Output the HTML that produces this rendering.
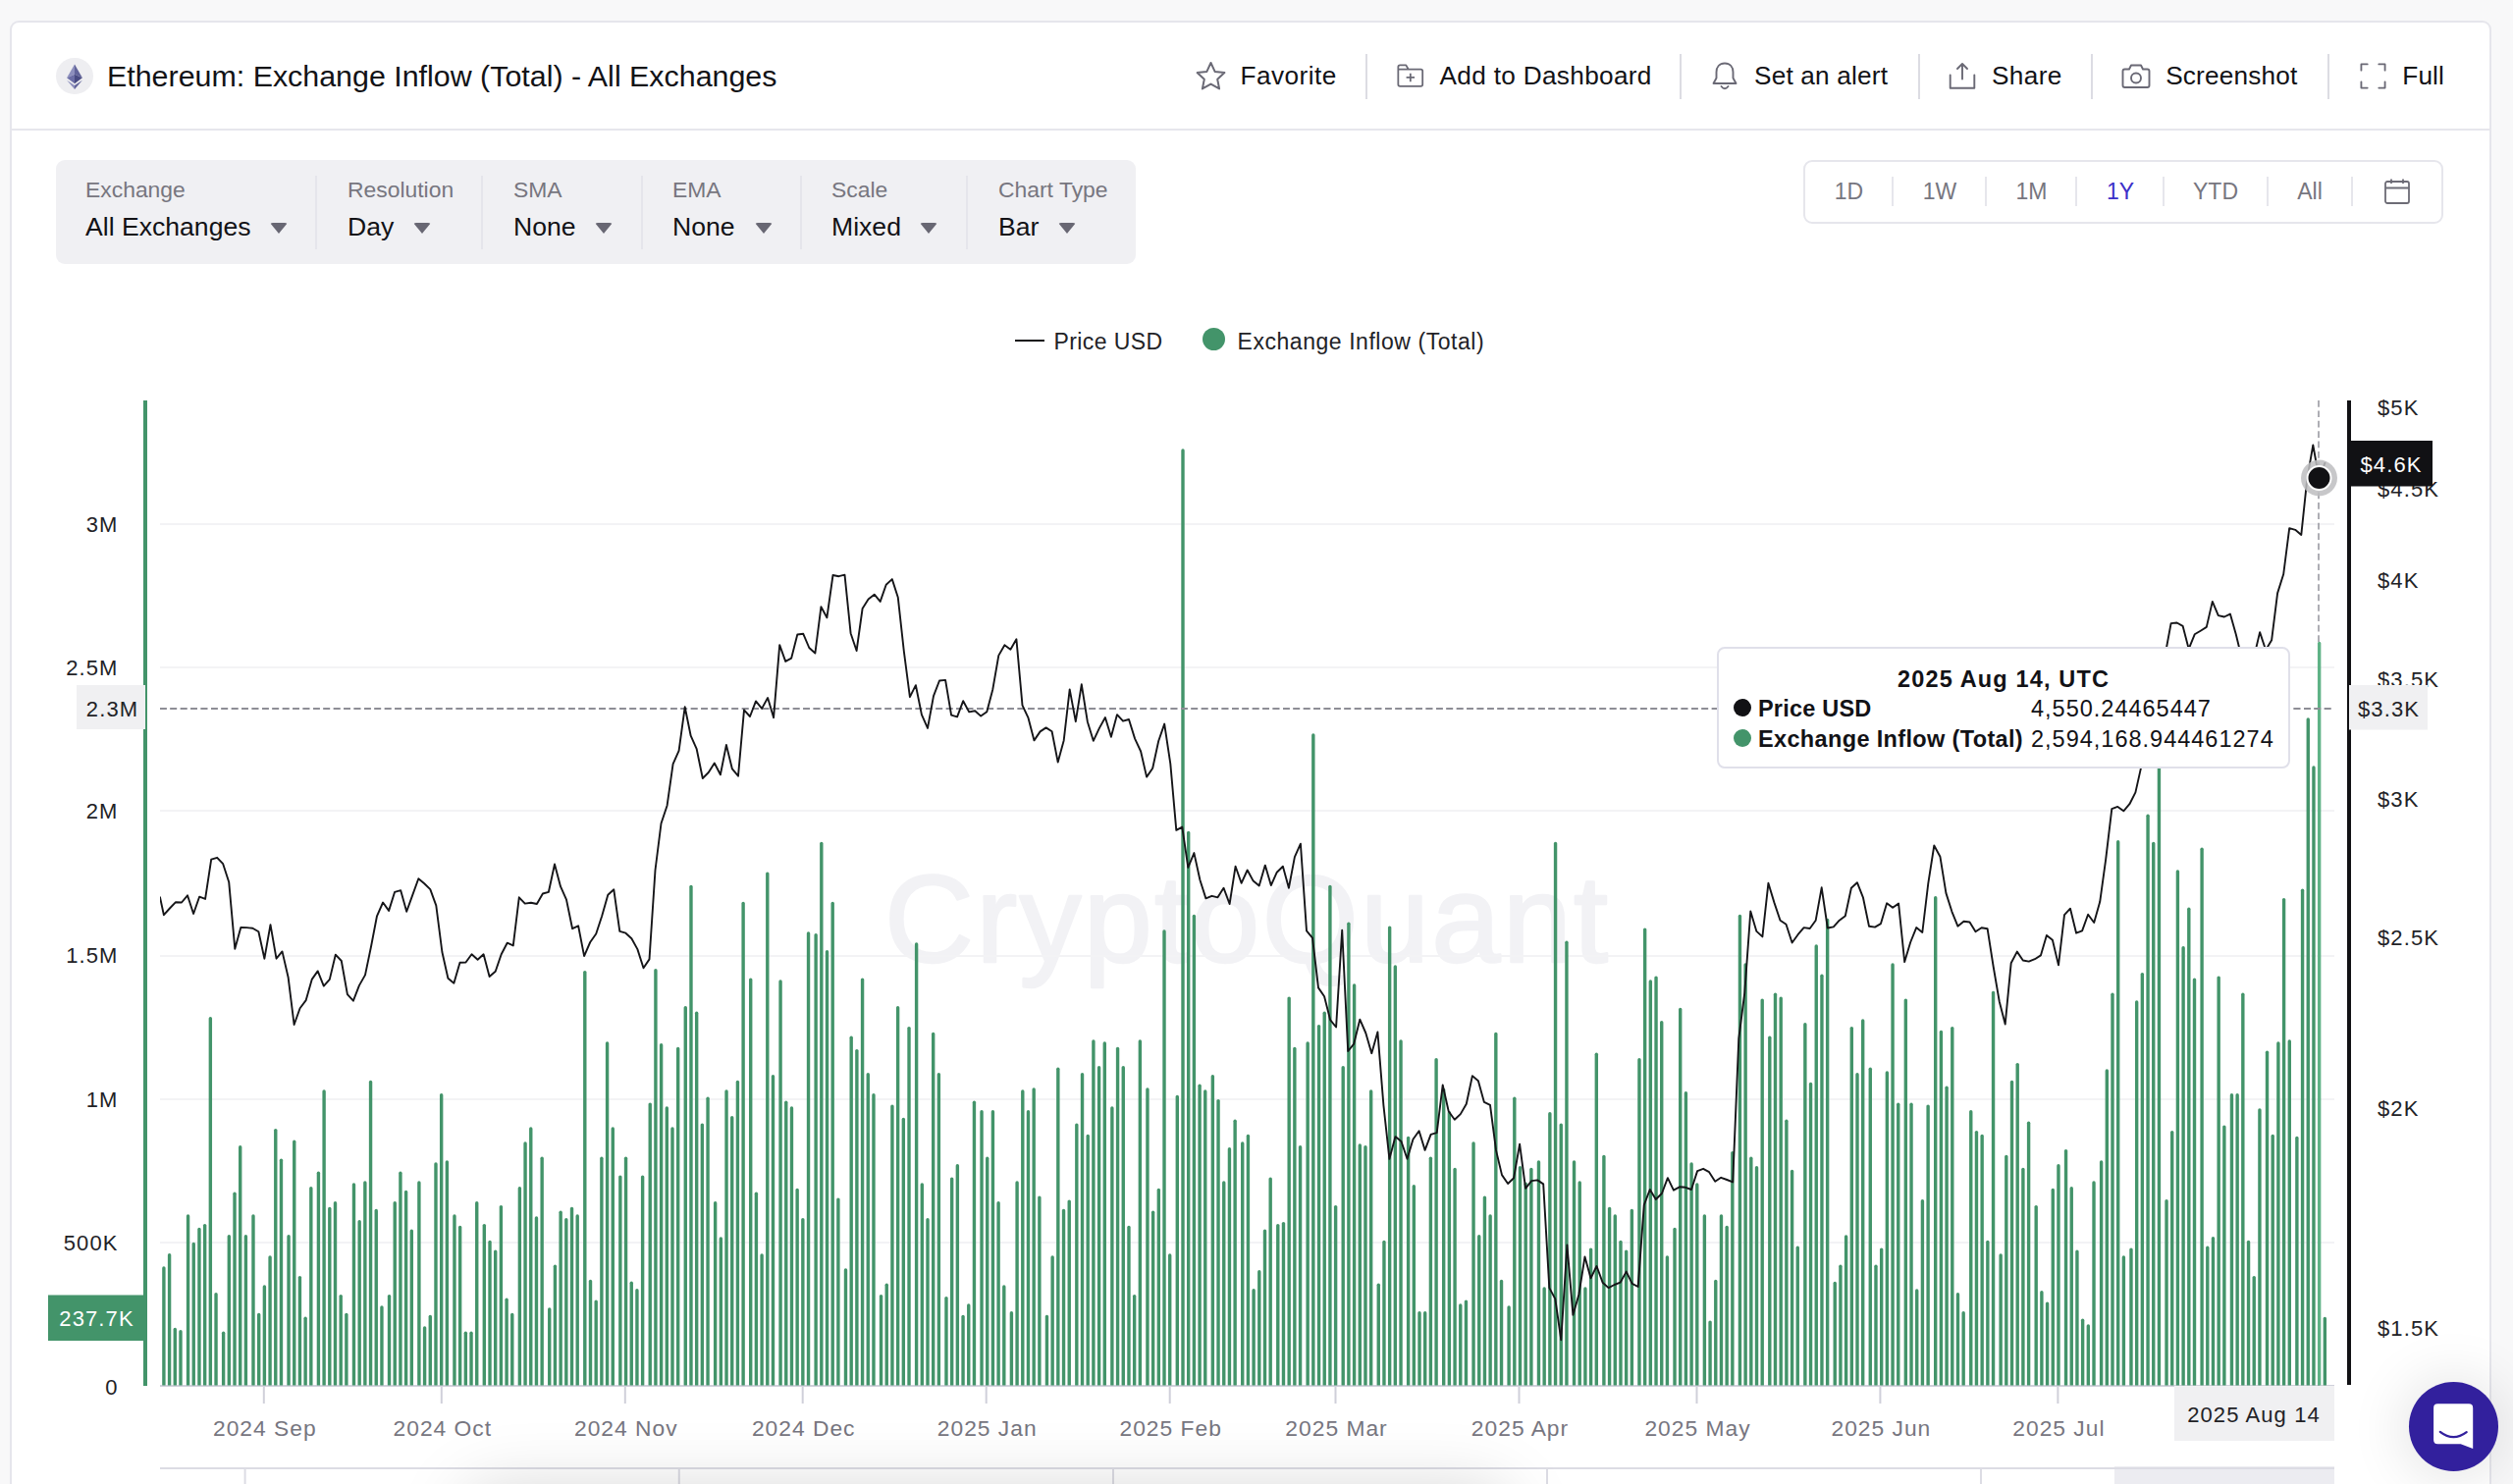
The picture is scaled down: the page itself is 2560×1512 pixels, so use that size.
<!DOCTYPE html>
<html lang="en">
<head>
<meta charset="utf-8">
<title>Ethereum: Exchange Inflow (Total) - All Exchanges</title>
<style>
*{box-sizing:border-box;margin:0;padding:0}
html,body{width:2560px;height:1512px;overflow:hidden;background:#f8f8f9;font-family:"Liberation Sans",sans-serif;color:#121216}
.abs{position:absolute}
.card{position:absolute;left:10px;top:21px;width:2528px;height:1520px;background:#fff;border:2px solid #e6e6ec;border-radius:9px}
.hline{position:absolute;left:12px;top:131px;width:2524px;height:2px;background:#e6e6ec}
.title{position:absolute;left:109px;top:59px;font-size:30.4px;line-height:36px;white-space:nowrap;color:#121216}
.eth{position:absolute;left:57px;top:58.7px;width:37.8px;height:37.8px;border-radius:50%;background:#eeeef1}
.tb{position:absolute;top:59px;margin-left:-1.5px;font-size:26.2px;letter-spacing:.45px;line-height:36px;white-space:nowrap;color:#121216}
.sep{position:absolute;top:55px;width:2px;height:46px;background:#dcdce3}
.ico{position:absolute}
.filter{position:absolute;left:57px;top:163px;width:1100px;height:106px;background:#f0f0f3;border-radius:9px}
.fl{position:absolute;top:179px;font-size:22.9px;line-height:28px;color:#77767f;white-space:nowrap}
.fv{position:absolute;top:214px;font-size:26.6px;line-height:34px;color:#121216;white-space:nowrap}
.fsep{position:absolute;top:179px;width:2px;height:75px;background:#e5e5eb}
.caret{position:absolute;top:227px;width:0;height:0;border-left:9px solid transparent;border-right:9px solid transparent;border-top:11px solid #686773;border-radius:3px}
.range{position:absolute;left:1837px;top:163px;width:652px;height:65px;border:2px solid #e6e6ec;border-radius:9px;background:#fff}
.ri{position:absolute;top:181px;font-size:23px;line-height:28px;color:#77767f;white-space:nowrap;transform:translateX(-50%)}
.rsep{position:absolute;top:180px;width:2px;height:30px;background:#e6e6ec}
.lg{position:absolute;top:333.8px;font-size:23px;line-height:28px;white-space:nowrap;color:#222226;letter-spacing:0.15px}
svg.chart{position:absolute;left:0;top:0}
svg .xl{font-family:"Liberation Sans",sans-serif;font-size:22.8px;fill:#77767f;letter-spacing:1px}
svg .yl{font-family:"Liberation Sans",sans-serif;font-size:22px;fill:#222226;letter-spacing:1.1px}
.tip{position:absolute;left:1749px;top:659px;width:584px;height:124px;background:#fff;border:2px solid #e0e0ea;border-radius:8px}
.tip div{position:absolute;white-space:nowrap;font-size:23.5px;line-height:28px;color:#121216}
.tip b{font-weight:700}
.dot{position:absolute;width:18px;height:18px;border-radius:50%}
.chat{position:absolute;left:2454px;top:1408px;width:91px;height:91px;border-radius:50%;background:#32209d;box-shadow:0 2px 55px 8px rgba(0,0,0,.1)}
.shadow{position:absolute;left:480px;top:1524px;width:1050px;height:120px;border-radius:20px;box-shadow:0 0 70px 6px rgba(0,0,0,.17)}
</style>
</head>
<body>
<div class="card"></div>
<div class="hline"></div>
<div class="eth"><svg width="38" height="38" viewBox="0 0 37.8 37.8"><path d="M18.9 6.4 L11.05 20.1 L18.9 16.6 Z" fill="#8d8fbd"/><path d="M18.9 6.4 L26.75 20.1 L18.9 16.6 Z" fill="#62649a"/><path d="M18.9 16.6 L11.05 20.1 L18.9 26.1 Z" fill="#6c6ea6"/><path d="M18.9 16.6 L26.75 20.1 L18.9 26.1 Z" fill="#484a82"/><path d="M11.05 22.75 L18.9 27.8 L18.9 31.9 Z" fill="#8d8fbd"/><path d="M26.75 22.75 L18.9 27.8 L18.9 31.9 Z" fill="#62649a"/></svg></div>
<div class="title">Ethereum: Exchange Inflow (Total) - All Exchanges</div>

<svg class="ico" style="left:1217px;top:61px" width="33" height="33" viewBox="0 0 33 33"><path d="M16.5 3.0 L20.6 11.9 L30.4 13.1 L23.2 19.8 L25.1 29.4 L16.5 24.6 L7.9 29.4 L9.8 19.8 L2.6 13.1 L12.4 11.9 Z" fill="none" stroke="#6a6975" stroke-width="2" stroke-linejoin="round"/></svg>
<div class="tb" style="left:1265px;letter-spacing:.45px">Favorite</div>
<div class="sep" style="left:1391px"></div>
<svg class="ico" style="left:1422px;top:63.3px" width="30" height="28.2" viewBox="0 0 32 30"><path d="M2.5 5.5 Q2.5 3.5 4.5 3.5 L11 3.5 L13.5 8 L27 8 Q29 8 29 10 L29 24.5 Q29 26.5 27 26.5 L4.5 26.5 Q2.5 26.5 2.5 24.5 Z M2.5 8 L13.5 8" fill="none" stroke="#6a6975" stroke-width="1.9" stroke-linejoin="round"/><path d="M15.8 12.5 V21.5 M11.3 17 H20.3" stroke="#6a6975" stroke-width="1.9" fill="none"/></svg>
<div class="tb" style="left:1468px;letter-spacing:.32px">Add to Dashboard</div>
<div class="sep" style="left:1711px"></div>
<svg class="ico" style="left:1741.7px;top:61px" width="30" height="34" viewBox="0 0 30 34"><path d="M15 3.5 C9.5 3.5 6.5 7.5 6.5 12.5 L6.5 18.5 L3.5 24 L26.5 24 L23.5 18.5 L23.5 12.5 C23.5 7.5 20.5 3.5 15 3.5 Z" fill="none" stroke="#6a6975" stroke-width="1.9" stroke-linejoin="round"/><path d="M11.5 27 Q15 31.5 18.5 27" fill="none" stroke="#6a6975" stroke-width="1.9" stroke-linecap="round"/></svg>
<div class="tb" style="left:1788.5px;letter-spacing:.19px">Set an alert</div>
<div class="sep" style="left:1954px"></div>
<svg class="ico" style="left:1983px;top:61px" width="32" height="32" viewBox="0 0 32 32"><path d="M3.7 15.5 L3.7 28.8 L28.3 28.8 L28.3 15.5" fill="none" stroke="#6a6975" stroke-width="1.9" stroke-linejoin="round" stroke-linecap="round"/><path d="M16 19.5 V4.5 M11 9 L16 4 L21 9" fill="none" stroke="#6a6975" stroke-width="1.9" stroke-linejoin="round" stroke-linecap="round"/></svg>
<div class="tb" style="left:2030.4px;letter-spacing:.4px">Share</div>
<div class="sep" style="left:2130px"></div>
<svg class="ico" style="left:2159.7px;top:62.5px" width="32" height="30" viewBox="0 0 32 30"><path d="M4.5 7.5 L9 7.5 L11 3.5 L21 3.5 L23 7.5 L27.5 7.5 Q29.5 7.5 29.5 9.5 L29.5 24 Q29.5 26 27.5 26 L4.5 26 Q2.5 26 2.5 24 L2.5 9.5 Q2.5 7.5 4.5 7.5 Z" fill="none" stroke="#6a6975" stroke-width="1.9" stroke-linejoin="round"/><circle cx="16" cy="16.5" r="5" fill="none" stroke="#6a6975" stroke-width="1.9"/></svg>
<div class="tb" style="left:2207.7px;letter-spacing:.18px">Screenshot</div>
<div class="sep" style="left:2371px"></div>
<svg class="ico" style="left:2402.6px;top:63.4px" width="29" height="29" viewBox="0 0 30 30"><path d="M2.5 9 V2.5 H9 M21 2.5 H27.5 V9 M27.5 21 V27.5 H21 M9 27.5 H2.5 V21" fill="none" stroke="#6a6975" stroke-width="1.9" stroke-linejoin="round" stroke-linecap="round"/></svg>
<div class="tb" style="left:2448.8px;letter-spacing:.1px">Full</div>

<div class="filter"></div>
<div class="fl" style="left:87px">Exchange</div><div class="fv" style="left:87px">All Exchanges</div><div class="caret" style="left:275px"></div>
<div class="fsep" style="left:321px"></div>
<div class="fl" style="left:354px">Resolution</div><div class="fv" style="left:354px">Day</div><div class="caret" style="left:421px"></div>
<div class="fsep" style="left:490px"></div>
<div class="fl" style="left:523px">SMA</div><div class="fv" style="left:523px">None</div><div class="caret" style="left:606px"></div>
<div class="fsep" style="left:653px"></div>
<div class="fl" style="left:685px">EMA</div><div class="fv" style="left:685px">None</div><div class="caret" style="left:769px"></div>
<div class="fsep" style="left:815px"></div>
<div class="fl" style="left:847px">Scale</div><div class="fv" style="left:847px">Mixed</div><div class="caret" style="left:937px"></div>
<div class="fsep" style="left:984px"></div>
<div class="fl" style="left:1017px">Chart Type</div><div class="fv" style="left:1017px">Bar</div><div class="caret" style="left:1078px"></div>

<div class="range"></div>
<div class="ri" style="left:1883.5px">1D</div><div class="rsep" style="left:1927px"></div>
<div class="ri" style="left:1976px">1W</div><div class="rsep" style="left:2022px"></div>
<div class="ri" style="left:2069.5px">1M</div><div class="rsep" style="left:2114px"></div>
<div class="ri" style="left:2160px;color:#3b2fc9">1Y</div><div class="rsep" style="left:2203px"></div>
<div class="ri" style="left:2257px">YTD</div><div class="rsep" style="left:2309px"></div>
<div class="ri" style="left:2353px">All</div><div class="rsep" style="left:2395px"></div>
<svg class="ico" style="left:2428px;top:181px" width="28" height="28" viewBox="0 0 28 28"><rect x="2" y="4" width="24" height="22" rx="2" fill="none" stroke="#6d6c76" stroke-width="1.8"/><path d="M2 10.5 H26 M8 1.5 V6 M20 1.5 V6" stroke="#6d6c76" stroke-width="1.8" fill="none"/></svg>

<div class="abs" style="left:1034px;top:346px;width:30px;height:2px;background:#151518"></div>
<div class="lg" style="left:1073.5px;letter-spacing:.4px">Price USD</div>
<div class="abs" style="left:1224.5px;top:334px;width:23px;height:23px;border-radius:50%;background:#43946a"></div>
<div class="lg" style="left:1260.5px;letter-spacing:.55px">Exchange Inflow (Total)</div>

<svg class="chart" width="2560" height="1512" viewBox="0 0 2560 1512">
<defs><clipPath id="cp"><rect x="150" y="400" width="2240" height="1011.5"/></clipPath><clipPath id="cl"><rect x="163" y="400" width="2215" height="1012"/></clipPath></defs>
<text x="901" y="980" textLength="737" lengthAdjust="spacing" font-family="Liberation Sans, sans-serif" font-size="126" fill="#f2f2f5" stroke="#f2f2f5" stroke-width="2.4" stroke-linejoin="round">CryptoQuant</text>
<rect x="163" y="533" width="2215" height="2" fill="#f3f3f5"/>
<rect x="163" y="679" width="2215" height="2" fill="#f3f3f5"/>
<rect x="163" y="825" width="2215" height="2" fill="#f3f3f5"/>
<rect x="163" y="973" width="2215" height="2" fill="#f3f3f5"/>
<rect x="163" y="1119" width="2215" height="2" fill="#f3f3f5"/>
<rect x="163" y="1265" width="2215" height="2" fill="#f3f3f5"/>
<rect x="163" y="1411" width="2215" height="2" fill="#d0d0da"/>
<rect x="267.8" y="1412" width="2" height="18" fill="#d0d0da"/>
<text x="269.8" y="1463" text-anchor="middle" class="xl">2024 Sep</text>
<rect x="448.8" y="1412" width="2" height="18" fill="#d0d0da"/>
<text x="450.8" y="1463" text-anchor="middle" class="xl">2024 Oct</text>
<rect x="635.8" y="1412" width="2" height="18" fill="#d0d0da"/>
<text x="637.8" y="1463" text-anchor="middle" class="xl">2024 Nov</text>
<rect x="816.7" y="1412" width="2" height="18" fill="#d0d0da"/>
<text x="818.7" y="1463" text-anchor="middle" class="xl">2024 Dec</text>
<rect x="1003.7" y="1412" width="2" height="18" fill="#d0d0da"/>
<text x="1005.7" y="1463" text-anchor="middle" class="xl">2025 Jan</text>
<rect x="1190.7" y="1412" width="2" height="18" fill="#d0d0da"/>
<text x="1192.7" y="1463" text-anchor="middle" class="xl">2025 Feb</text>
<rect x="1359.5" y="1412" width="2" height="18" fill="#d0d0da"/>
<text x="1361.5" y="1463" text-anchor="middle" class="xl">2025 Mar</text>
<rect x="1546.5" y="1412" width="2" height="18" fill="#d0d0da"/>
<text x="1548.5" y="1463" text-anchor="middle" class="xl">2025 Apr</text>
<rect x="1727.5" y="1412" width="2" height="18" fill="#d0d0da"/>
<text x="1729.5" y="1463" text-anchor="middle" class="xl">2025 May</text>
<rect x="1914.4" y="1412" width="2" height="18" fill="#d0d0da"/>
<text x="1916.4" y="1463" text-anchor="middle" class="xl">2025 Jun</text>
<rect x="2095.4" y="1412" width="2" height="18" fill="#d0d0da"/>
<text x="2097.4" y="1463" text-anchor="middle" class="xl">2025 Jul</text>
<line x1="163" y1="722" x2="2378" y2="722" stroke="#8e8e96" stroke-width="2" stroke-dasharray="6.7 3.7"/>
<line x1="2362" y1="408" x2="2362" y2="1412" stroke="#9a9aa2" stroke-width="1.6" stroke-dasharray="6.7 3.7"/>
<g clip-path="url(#cp)"><rect x="165.20" y="1290.3" width="3.4" height="122.4" rx="1.7" fill="#43946a"/><rect x="170.89" y="1277.0" width="3.4" height="135.7" rx="1.7" fill="#43946a"/><rect x="176.59" y="1352.7" width="3.4" height="60.0" rx="1.7" fill="#43946a"/><rect x="182.28" y="1355.0" width="3.4" height="57.7" rx="1.7" fill="#43946a"/><rect x="189.87" y="1237.3" width="3.4" height="175.4" rx="1.7" fill="#43946a"/><rect x="195.56" y="1265.8" width="3.4" height="146.9" rx="1.7" fill="#43946a"/><rect x="201.26" y="1250.7" width="3.4" height="162.0" rx="1.7" fill="#43946a"/><rect x="206.95" y="1246.9" width="3.4" height="165.8" rx="1.7" fill="#43946a"/><rect x="212.65" y="1036.1" width="3.4" height="376.6" rx="1.7" fill="#43946a"/><rect x="218.34" y="1317.1" width="3.4" height="95.6" rx="1.7" fill="#43946a"/><rect x="225.93" y="1356.5" width="3.4" height="56.2" rx="1.7" fill="#43946a"/><rect x="231.62" y="1258.0" width="3.4" height="154.7" rx="1.7" fill="#43946a"/><rect x="237.32" y="1214.6" width="3.4" height="198.1" rx="1.7" fill="#43946a"/><rect x="243.01" y="1167.1" width="3.4" height="245.6" rx="1.7" fill="#43946a"/><rect x="248.70" y="1258.0" width="3.4" height="154.7" rx="1.7" fill="#43946a"/><rect x="256.29" y="1237.3" width="3.4" height="175.4" rx="1.7" fill="#43946a"/><rect x="261.99" y="1337.8" width="3.4" height="74.9" rx="1.7" fill="#43946a"/><rect x="267.68" y="1309.3" width="3.4" height="103.4" rx="1.7" fill="#43946a"/><rect x="273.37" y="1279.2" width="3.4" height="133.5" rx="1.7" fill="#43946a"/><rect x="279.07" y="1149.9" width="3.4" height="262.8" rx="1.7" fill="#43946a"/><rect x="284.76" y="1180.5" width="3.4" height="232.2" rx="1.7" fill="#43946a"/><rect x="292.35" y="1258.0" width="3.4" height="154.7" rx="1.7" fill="#43946a"/><rect x="298.05" y="1161.5" width="3.4" height="251.2" rx="1.7" fill="#43946a"/><rect x="303.74" y="1299.9" width="3.4" height="112.8" rx="1.7" fill="#43946a"/><rect x="309.43" y="1341.6" width="3.4" height="71.1" rx="1.7" fill="#43946a"/><rect x="315.13" y="1209.0" width="3.4" height="203.7" rx="1.7" fill="#43946a"/><rect x="322.72" y="1193.6" width="3.4" height="219.1" rx="1.7" fill="#43946a"/><rect x="328.41" y="1110.3" width="3.4" height="302.4" rx="1.7" fill="#43946a"/><rect x="334.10" y="1229.7" width="3.4" height="183.0" rx="1.7" fill="#43946a"/><rect x="339.80" y="1224.1" width="3.4" height="188.6" rx="1.7" fill="#43946a"/><rect x="345.49" y="1318.9" width="3.4" height="93.8" rx="1.7" fill="#43946a"/><rect x="351.18" y="1337.8" width="3.4" height="74.9" rx="1.7" fill="#43946a"/><rect x="358.78" y="1205.2" width="3.4" height="207.5" rx="1.7" fill="#43946a"/><rect x="364.47" y="1243.1" width="3.4" height="169.6" rx="1.7" fill="#43946a"/><rect x="370.16" y="1203.2" width="3.4" height="209.5" rx="1.7" fill="#43946a"/><rect x="375.86" y="1100.7" width="3.4" height="312.0" rx="1.7" fill="#43946a"/><rect x="381.55" y="1231.7" width="3.4" height="181.0" rx="1.7" fill="#43946a"/><rect x="387.24" y="1330.2" width="3.4" height="82.5" rx="1.7" fill="#43946a"/><rect x="394.83" y="1318.9" width="3.4" height="93.8" rx="1.7" fill="#43946a"/><rect x="400.53" y="1224.1" width="3.4" height="188.6" rx="1.7" fill="#43946a"/><rect x="406.22" y="1193.6" width="3.4" height="219.1" rx="1.7" fill="#43946a"/><rect x="411.91" y="1212.8" width="3.4" height="199.9" rx="1.7" fill="#43946a"/><rect x="417.61" y="1252.4" width="3.4" height="160.3" rx="1.7" fill="#43946a"/><rect x="425.20" y="1203.2" width="3.4" height="209.5" rx="1.7" fill="#43946a"/><rect x="430.89" y="1351.2" width="3.4" height="61.5" rx="1.7" fill="#43946a"/><rect x="436.59" y="1339.8" width="3.4" height="72.9" rx="1.7" fill="#43946a"/><rect x="442.28" y="1184.3" width="3.4" height="228.4" rx="1.7" fill="#43946a"/><rect x="447.97" y="1114.1" width="3.4" height="298.6" rx="1.7" fill="#43946a"/><rect x="453.67" y="1182.3" width="3.4" height="230.4" rx="1.7" fill="#43946a"/><rect x="461.26" y="1237.3" width="3.4" height="175.4" rx="1.7" fill="#43946a"/><rect x="466.95" y="1248.7" width="3.4" height="164.0" rx="1.7" fill="#43946a"/><rect x="472.64" y="1356.5" width="3.4" height="56.2" rx="1.7" fill="#43946a"/><rect x="478.34" y="1356.5" width="3.4" height="56.2" rx="1.7" fill="#43946a"/><rect x="484.03" y="1224.1" width="3.4" height="188.6" rx="1.7" fill="#43946a"/><rect x="491.62" y="1246.9" width="3.4" height="165.8" rx="1.7" fill="#43946a"/><rect x="497.31" y="1263.8" width="3.4" height="148.9" rx="1.7" fill="#43946a"/><rect x="503.01" y="1273.4" width="3.4" height="139.3" rx="1.7" fill="#43946a"/><rect x="508.70" y="1227.9" width="3.4" height="184.8" rx="1.7" fill="#43946a"/><rect x="514.40" y="1322.6" width="3.4" height="90.1" rx="1.7" fill="#43946a"/><rect x="520.09" y="1337.8" width="3.4" height="74.9" rx="1.7" fill="#43946a"/><rect x="527.68" y="1209.0" width="3.4" height="203.7" rx="1.7" fill="#43946a"/><rect x="533.37" y="1163.3" width="3.4" height="249.4" rx="1.7" fill="#43946a"/><rect x="539.07" y="1148.2" width="3.4" height="264.5" rx="1.7" fill="#43946a"/><rect x="544.76" y="1239.3" width="3.4" height="173.4" rx="1.7" fill="#43946a"/><rect x="550.45" y="1178.5" width="3.4" height="234.2" rx="1.7" fill="#43946a"/><rect x="558.04" y="1332.2" width="3.4" height="80.5" rx="1.7" fill="#43946a"/><rect x="563.74" y="1288.5" width="3.4" height="124.2" rx="1.7" fill="#43946a"/><rect x="569.43" y="1233.5" width="3.4" height="179.2" rx="1.7" fill="#43946a"/><rect x="575.12" y="1241.1" width="3.4" height="171.6" rx="1.7" fill="#43946a"/><rect x="580.82" y="1229.7" width="3.4" height="183.0" rx="1.7" fill="#43946a"/><rect x="586.51" y="1237.3" width="3.4" height="175.4" rx="1.7" fill="#43946a"/><rect x="594.10" y="988.9" width="3.4" height="423.8" rx="1.7" fill="#43946a"/><rect x="599.80" y="1303.7" width="3.4" height="109.0" rx="1.7" fill="#43946a"/><rect x="605.49" y="1324.4" width="3.4" height="88.3" rx="1.7" fill="#43946a"/><rect x="611.18" y="1178.5" width="3.4" height="234.2" rx="1.7" fill="#43946a"/><rect x="616.88" y="1061.3" width="3.4" height="351.4" rx="1.7" fill="#43946a"/><rect x="622.57" y="1148.2" width="3.4" height="264.5" rx="1.7" fill="#43946a"/><rect x="630.16" y="1197.4" width="3.4" height="215.3" rx="1.7" fill="#43946a"/><rect x="635.85" y="1178.5" width="3.4" height="234.2" rx="1.7" fill="#43946a"/><rect x="641.55" y="1305.5" width="3.4" height="107.2" rx="1.7" fill="#43946a"/><rect x="647.24" y="1313.1" width="3.4" height="99.6" rx="1.7" fill="#43946a"/><rect x="652.93" y="1197.4" width="3.4" height="215.3" rx="1.7" fill="#43946a"/><rect x="660.53" y="1123.4" width="3.4" height="289.3" rx="1.7" fill="#43946a"/><rect x="666.22" y="987.1" width="3.4" height="425.6" rx="1.7" fill="#43946a"/><rect x="671.91" y="1063.1" width="3.4" height="349.6" rx="1.7" fill="#43946a"/><rect x="677.61" y="1127.2" width="3.4" height="285.5" rx="1.7" fill="#43946a"/><rect x="683.30" y="1148.2" width="3.4" height="264.5" rx="1.7" fill="#43946a"/><rect x="688.99" y="1066.8" width="3.4" height="345.9" rx="1.7" fill="#43946a"/><rect x="696.58" y="1025.0" width="3.4" height="387.7" rx="1.7" fill="#43946a"/><rect x="702.28" y="901.7" width="3.4" height="511.0" rx="1.7" fill="#43946a"/><rect x="707.97" y="1030.5" width="3.4" height="382.2" rx="1.7" fill="#43946a"/><rect x="713.66" y="1144.4" width="3.4" height="268.3" rx="1.7" fill="#43946a"/><rect x="719.36" y="1117.6" width="3.4" height="295.1" rx="1.7" fill="#43946a"/><rect x="726.95" y="1224.1" width="3.4" height="188.6" rx="1.7" fill="#43946a"/><rect x="732.64" y="1260.2" width="3.4" height="152.5" rx="1.7" fill="#43946a"/><rect x="738.34" y="1110.3" width="3.4" height="302.4" rx="1.7" fill="#43946a"/><rect x="744.03" y="1137.0" width="3.4" height="275.7" rx="1.7" fill="#43946a"/><rect x="749.72" y="1100.7" width="3.4" height="312.0" rx="1.7" fill="#43946a"/><rect x="755.42" y="918.7" width="3.4" height="494.0" rx="1.7" fill="#43946a"/><rect x="763.01" y="996.4" width="3.4" height="416.3" rx="1.7" fill="#43946a"/><rect x="768.70" y="1214.6" width="3.4" height="198.1" rx="1.7" fill="#43946a"/><rect x="774.39" y="1277.2" width="3.4" height="135.5" rx="1.7" fill="#43946a"/><rect x="780.09" y="888.4" width="3.4" height="524.3" rx="1.7" fill="#43946a"/><rect x="785.78" y="1095.1" width="3.4" height="317.6" rx="1.7" fill="#43946a"/><rect x="793.37" y="998.2" width="3.4" height="414.5" rx="1.7" fill="#43946a"/><rect x="799.07" y="1121.6" width="3.4" height="291.1" rx="1.7" fill="#43946a"/><rect x="804.76" y="1127.2" width="3.4" height="285.5" rx="1.7" fill="#43946a"/><rect x="810.45" y="1210.8" width="3.4" height="201.9" rx="1.7" fill="#43946a"/><rect x="816.15" y="1241.1" width="3.4" height="171.6" rx="1.7" fill="#43946a"/><rect x="821.84" y="949.2" width="3.4" height="463.5" rx="1.7" fill="#43946a"/><rect x="829.43" y="951.0" width="3.4" height="461.7" rx="1.7" fill="#43946a"/><rect x="835.12" y="857.8" width="3.4" height="554.9" rx="1.7" fill="#43946a"/><rect x="840.82" y="968.1" width="3.4" height="444.6" rx="1.7" fill="#43946a"/><rect x="846.51" y="918.7" width="3.4" height="494.0" rx="1.7" fill="#43946a"/><rect x="852.20" y="1220.4" width="3.4" height="192.3" rx="1.7" fill="#43946a"/><rect x="859.79" y="1292.3" width="3.4" height="120.4" rx="1.7" fill="#43946a"/><rect x="865.49" y="1055.5" width="3.4" height="357.2" rx="1.7" fill="#43946a"/><rect x="871.18" y="1068.9" width="3.4" height="343.8" rx="1.7" fill="#43946a"/><rect x="876.87" y="996.4" width="3.4" height="416.3" rx="1.7" fill="#43946a"/><rect x="882.57" y="1093.1" width="3.4" height="319.6" rx="1.7" fill="#43946a"/><rect x="888.26" y="1114.1" width="3.4" height="298.6" rx="1.7" fill="#43946a"/><rect x="895.85" y="1318.9" width="3.4" height="93.8" rx="1.7" fill="#43946a"/><rect x="901.55" y="1307.5" width="3.4" height="105.2" rx="1.7" fill="#43946a"/><rect x="907.24" y="1125.4" width="3.4" height="287.3" rx="1.7" fill="#43946a"/><rect x="912.93" y="1025.0" width="3.4" height="387.7" rx="1.7" fill="#43946a"/><rect x="918.63" y="1138.8" width="3.4" height="273.9" rx="1.7" fill="#43946a"/><rect x="924.32" y="1045.9" width="3.4" height="366.8" rx="1.7" fill="#43946a"/><rect x="931.91" y="960.3" width="3.4" height="452.4" rx="1.7" fill="#43946a"/><rect x="937.60" y="1205.2" width="3.4" height="207.5" rx="1.7" fill="#43946a"/><rect x="943.30" y="1241.1" width="3.4" height="171.6" rx="1.7" fill="#43946a"/><rect x="948.99" y="1051.7" width="3.4" height="361.0" rx="1.7" fill="#43946a"/><rect x="954.68" y="1093.1" width="3.4" height="319.6" rx="1.7" fill="#43946a"/><rect x="962.28" y="1320.9" width="3.4" height="91.8" rx="1.7" fill="#43946a"/><rect x="967.97" y="1199.4" width="3.4" height="213.3" rx="1.7" fill="#43946a"/><rect x="973.66" y="1186.0" width="3.4" height="226.7" rx="1.7" fill="#43946a"/><rect x="979.36" y="1339.8" width="3.4" height="72.9" rx="1.7" fill="#43946a"/><rect x="985.05" y="1328.2" width="3.4" height="84.5" rx="1.7" fill="#43946a"/><rect x="990.74" y="1121.6" width="3.4" height="291.1" rx="1.7" fill="#43946a"/><rect x="998.33" y="1131.0" width="3.4" height="281.7" rx="1.7" fill="#43946a"/><rect x="1004.03" y="1178.5" width="3.4" height="234.2" rx="1.7" fill="#43946a"/><rect x="1009.72" y="1131.0" width="3.4" height="281.7" rx="1.7" fill="#43946a"/><rect x="1015.41" y="1224.1" width="3.4" height="188.6" rx="1.7" fill="#43946a"/><rect x="1021.11" y="1309.3" width="3.4" height="103.4" rx="1.7" fill="#43946a"/><rect x="1028.70" y="1336.0" width="3.4" height="76.7" rx="1.7" fill="#43946a"/><rect x="1034.39" y="1203.2" width="3.4" height="209.5" rx="1.7" fill="#43946a"/><rect x="1040.09" y="1110.3" width="3.4" height="302.4" rx="1.7" fill="#43946a"/><rect x="1045.78" y="1131.0" width="3.4" height="281.7" rx="1.7" fill="#43946a"/><rect x="1051.47" y="1108.3" width="3.4" height="304.4" rx="1.7" fill="#43946a"/><rect x="1057.17" y="1218.4" width="3.4" height="194.3" rx="1.7" fill="#43946a"/><rect x="1064.76" y="1339.8" width="3.4" height="72.9" rx="1.7" fill="#43946a"/><rect x="1070.45" y="1279.2" width="3.4" height="133.5" rx="1.7" fill="#43946a"/><rect x="1076.14" y="1087.5" width="3.4" height="325.2" rx="1.7" fill="#43946a"/><rect x="1081.84" y="1231.7" width="3.4" height="181.0" rx="1.7" fill="#43946a"/><rect x="1087.53" y="1222.4" width="3.4" height="190.3" rx="1.7" fill="#43946a"/><rect x="1095.12" y="1144.4" width="3.4" height="268.3" rx="1.7" fill="#43946a"/><rect x="1100.82" y="1093.1" width="3.4" height="319.6" rx="1.7" fill="#43946a"/><rect x="1106.51" y="1155.7" width="3.4" height="257.0" rx="1.7" fill="#43946a"/><rect x="1112.20" y="1059.3" width="3.4" height="353.4" rx="1.7" fill="#43946a"/><rect x="1117.90" y="1086.0" width="3.4" height="326.7" rx="1.7" fill="#43946a"/><rect x="1123.59" y="1061.3" width="3.4" height="351.4" rx="1.7" fill="#43946a"/><rect x="1131.18" y="1127.2" width="3.4" height="285.5" rx="1.7" fill="#43946a"/><rect x="1136.87" y="1066.8" width="3.4" height="345.9" rx="1.7" fill="#43946a"/><rect x="1142.57" y="1086.0" width="3.4" height="326.7" rx="1.7" fill="#43946a"/><rect x="1148.26" y="1248.7" width="3.4" height="164.0" rx="1.7" fill="#43946a"/><rect x="1153.95" y="1318.9" width="3.4" height="93.8" rx="1.7" fill="#43946a"/><rect x="1159.65" y="1059.3" width="3.4" height="353.4" rx="1.7" fill="#43946a"/><rect x="1167.24" y="1108.3" width="3.4" height="304.4" rx="1.7" fill="#43946a"/><rect x="1172.93" y="1233.5" width="3.4" height="179.2" rx="1.7" fill="#43946a"/><rect x="1178.63" y="1210.8" width="3.4" height="201.9" rx="1.7" fill="#43946a"/><rect x="1184.32" y="947.2" width="3.4" height="465.5" rx="1.7" fill="#43946a"/><rect x="1190.01" y="1277.2" width="3.4" height="135.5" rx="1.7" fill="#43946a"/><rect x="1197.60" y="1115.8" width="3.4" height="296.9" rx="1.7" fill="#43946a"/><rect x="1203.30" y="457.2" width="3.4" height="955.5" rx="1.7" fill="#43946a"/><rect x="1208.99" y="846.7" width="3.4" height="566.0" rx="1.7" fill="#43946a"/><rect x="1214.68" y="931.8" width="3.4" height="480.9" rx="1.7" fill="#43946a"/><rect x="1220.38" y="1104.5" width="3.4" height="308.2" rx="1.7" fill="#43946a"/><rect x="1226.07" y="1110.3" width="3.4" height="302.4" rx="1.7" fill="#43946a"/><rect x="1233.66" y="1095.1" width="3.4" height="317.6" rx="1.7" fill="#43946a"/><rect x="1239.35" y="1119.9" width="3.4" height="292.8" rx="1.7" fill="#43946a"/><rect x="1245.05" y="1203.2" width="3.4" height="209.5" rx="1.7" fill="#43946a"/><rect x="1250.74" y="1169.1" width="3.4" height="243.6" rx="1.7" fill="#43946a"/><rect x="1256.43" y="1140.6" width="3.4" height="272.1" rx="1.7" fill="#43946a"/><rect x="1264.03" y="1163.3" width="3.4" height="249.4" rx="1.7" fill="#43946a"/><rect x="1269.72" y="1155.7" width="3.4" height="257.0" rx="1.7" fill="#43946a"/><rect x="1275.41" y="1313.1" width="3.4" height="99.6" rx="1.7" fill="#43946a"/><rect x="1281.11" y="1294.1" width="3.4" height="118.6" rx="1.7" fill="#43946a"/><rect x="1286.80" y="1252.4" width="3.4" height="160.3" rx="1.7" fill="#43946a"/><rect x="1292.49" y="1199.4" width="3.4" height="213.3" rx="1.7" fill="#43946a"/><rect x="1300.08" y="1246.9" width="3.4" height="165.8" rx="1.7" fill="#43946a"/><rect x="1305.78" y="1244.9" width="3.4" height="167.8" rx="1.7" fill="#43946a"/><rect x="1311.47" y="1015.4" width="3.4" height="397.3" rx="1.7" fill="#43946a"/><rect x="1317.16" y="1066.8" width="3.4" height="345.9" rx="1.7" fill="#43946a"/><rect x="1322.86" y="1167.1" width="3.4" height="245.6" rx="1.7" fill="#43946a"/><rect x="1330.45" y="1061.3" width="3.4" height="351.4" rx="1.7" fill="#43946a"/><rect x="1336.14" y="747.2" width="3.4" height="665.5" rx="1.7" fill="#43946a"/><rect x="1341.84" y="1043.9" width="3.4" height="368.8" rx="1.7" fill="#43946a"/><rect x="1347.53" y="1030.5" width="3.4" height="382.2" rx="1.7" fill="#43946a"/><rect x="1353.22" y="901.7" width="3.4" height="511.0" rx="1.7" fill="#43946a"/><rect x="1358.92" y="1227.9" width="3.4" height="184.8" rx="1.7" fill="#43946a"/><rect x="1366.51" y="1086.0" width="3.4" height="326.7" rx="1.7" fill="#43946a"/><rect x="1372.20" y="939.6" width="3.4" height="473.1" rx="1.7" fill="#43946a"/><rect x="1377.89" y="1002.2" width="3.4" height="410.5" rx="1.7" fill="#43946a"/><rect x="1383.59" y="1165.3" width="3.4" height="247.4" rx="1.7" fill="#43946a"/><rect x="1389.28" y="1167.1" width="3.4" height="245.6" rx="1.7" fill="#43946a"/><rect x="1394.97" y="1110.3" width="3.4" height="302.4" rx="1.7" fill="#43946a"/><rect x="1402.57" y="1307.5" width="3.4" height="105.2" rx="1.7" fill="#43946a"/><rect x="1408.26" y="1263.8" width="3.4" height="148.9" rx="1.7" fill="#43946a"/><rect x="1413.95" y="943.4" width="3.4" height="469.3" rx="1.7" fill="#43946a"/><rect x="1419.65" y="983.3" width="3.4" height="429.4" rx="1.7" fill="#43946a"/><rect x="1425.34" y="1059.3" width="3.4" height="353.4" rx="1.7" fill="#43946a"/><rect x="1432.93" y="1157.7" width="3.4" height="255.0" rx="1.7" fill="#43946a"/><rect x="1438.62" y="1207.0" width="3.4" height="205.7" rx="1.7" fill="#43946a"/><rect x="1444.32" y="1336.0" width="3.4" height="76.7" rx="1.7" fill="#43946a"/><rect x="1450.01" y="1336.0" width="3.4" height="76.7" rx="1.7" fill="#43946a"/><rect x="1455.70" y="1178.5" width="3.4" height="234.2" rx="1.7" fill="#43946a"/><rect x="1461.40" y="1078.0" width="3.4" height="334.7" rx="1.7" fill="#43946a"/><rect x="1468.99" y="1108.7" width="3.4" height="304.0" rx="1.7" fill="#43946a"/><rect x="1474.68" y="1132.1" width="3.4" height="280.6" rx="1.7" fill="#43946a"/><rect x="1480.38" y="1189.8" width="3.4" height="222.9" rx="1.7" fill="#43946a"/><rect x="1486.07" y="1328.2" width="3.4" height="84.5" rx="1.7" fill="#43946a"/><rect x="1491.76" y="1324.4" width="3.4" height="88.3" rx="1.7" fill="#43946a"/><rect x="1499.35" y="1163.3" width="3.4" height="249.4" rx="1.7" fill="#43946a"/><rect x="1505.05" y="1258.0" width="3.4" height="154.7" rx="1.7" fill="#43946a"/><rect x="1510.74" y="1218.4" width="3.4" height="194.3" rx="1.7" fill="#43946a"/><rect x="1516.43" y="1237.3" width="3.4" height="175.4" rx="1.7" fill="#43946a"/><rect x="1522.13" y="1051.7" width="3.4" height="361.0" rx="1.7" fill="#43946a"/><rect x="1527.82" y="1303.7" width="3.4" height="109.0" rx="1.7" fill="#43946a"/><rect x="1535.41" y="1330.2" width="3.4" height="82.5" rx="1.7" fill="#43946a"/><rect x="1541.11" y="1117.6" width="3.4" height="295.1" rx="1.7" fill="#43946a"/><rect x="1546.80" y="1188.0" width="3.4" height="224.7" rx="1.7" fill="#43946a"/><rect x="1552.49" y="1204.5" width="3.4" height="208.2" rx="1.7" fill="#43946a"/><rect x="1558.19" y="1189.8" width="3.4" height="222.9" rx="1.7" fill="#43946a"/><rect x="1565.78" y="1182.3" width="3.4" height="230.4" rx="1.7" fill="#43946a"/><rect x="1571.47" y="1311.3" width="3.4" height="101.4" rx="1.7" fill="#43946a"/><rect x="1577.16" y="1133.0" width="3.4" height="279.7" rx="1.7" fill="#43946a"/><rect x="1582.86" y="857.8" width="3.4" height="554.9" rx="1.7" fill="#43946a"/><rect x="1588.55" y="1144.4" width="3.4" height="268.3" rx="1.7" fill="#43946a"/><rect x="1594.24" y="958.5" width="3.4" height="454.2" rx="1.7" fill="#43946a"/><rect x="1601.83" y="1182.3" width="3.4" height="230.4" rx="1.7" fill="#43946a"/><rect x="1607.53" y="1203.2" width="3.4" height="209.5" rx="1.7" fill="#43946a"/><rect x="1613.22" y="1311.3" width="3.4" height="101.4" rx="1.7" fill="#43946a"/><rect x="1618.91" y="1271.4" width="3.4" height="141.3" rx="1.7" fill="#43946a"/><rect x="1624.61" y="1072.6" width="3.4" height="340.1" rx="1.7" fill="#43946a"/><rect x="1632.20" y="1176.7" width="3.4" height="236.0" rx="1.7" fill="#43946a"/><rect x="1637.89" y="1229.7" width="3.4" height="183.0" rx="1.7" fill="#43946a"/><rect x="1643.59" y="1237.3" width="3.4" height="175.4" rx="1.7" fill="#43946a"/><rect x="1649.28" y="1263.8" width="3.4" height="148.9" rx="1.7" fill="#43946a"/><rect x="1654.97" y="1273.4" width="3.4" height="139.3" rx="1.7" fill="#43946a"/><rect x="1660.67" y="1231.7" width="3.4" height="181.0" rx="1.7" fill="#43946a"/><rect x="1668.26" y="1078.0" width="3.4" height="334.7" rx="1.7" fill="#43946a"/><rect x="1673.95" y="945.4" width="3.4" height="467.3" rx="1.7" fill="#43946a"/><rect x="1679.64" y="998.2" width="3.4" height="414.5" rx="1.7" fill="#43946a"/><rect x="1685.34" y="994.4" width="3.4" height="418.3" rx="1.7" fill="#43946a"/><rect x="1691.03" y="1040.1" width="3.4" height="372.6" rx="1.7" fill="#43946a"/><rect x="1696.72" y="1279.2" width="3.4" height="133.5" rx="1.7" fill="#43946a"/><rect x="1704.32" y="1250.7" width="3.4" height="162.0" rx="1.7" fill="#43946a"/><rect x="1710.01" y="1026.7" width="3.4" height="386.0" rx="1.7" fill="#43946a"/><rect x="1715.70" y="1112.1" width="3.4" height="300.6" rx="1.7" fill="#43946a"/><rect x="1721.40" y="1184.3" width="3.4" height="228.4" rx="1.7" fill="#43946a"/><rect x="1727.09" y="1205.2" width="3.4" height="207.5" rx="1.7" fill="#43946a"/><rect x="1734.68" y="1237.3" width="3.4" height="175.4" rx="1.7" fill="#43946a"/><rect x="1740.37" y="1345.4" width="3.4" height="67.3" rx="1.7" fill="#43946a"/><rect x="1746.07" y="1303.7" width="3.4" height="109.0" rx="1.7" fill="#43946a"/><rect x="1751.76" y="1237.3" width="3.4" height="175.4" rx="1.7" fill="#43946a"/><rect x="1757.45" y="1248.7" width="3.4" height="164.0" rx="1.7" fill="#43946a"/><rect x="1763.15" y="1172.9" width="3.4" height="239.8" rx="1.7" fill="#43946a"/><rect x="1770.74" y="931.8" width="3.4" height="480.9" rx="1.7" fill="#43946a"/><rect x="1776.43" y="981.3" width="3.4" height="431.4" rx="1.7" fill="#43946a"/><rect x="1782.13" y="1178.5" width="3.4" height="234.2" rx="1.7" fill="#43946a"/><rect x="1787.82" y="1188.0" width="3.4" height="224.7" rx="1.7" fill="#43946a"/><rect x="1793.51" y="1017.4" width="3.4" height="395.3" rx="1.7" fill="#43946a"/><rect x="1801.10" y="1055.5" width="3.4" height="357.2" rx="1.7" fill="#43946a"/><rect x="1806.80" y="1011.6" width="3.4" height="401.1" rx="1.7" fill="#43946a"/><rect x="1812.49" y="1015.4" width="3.4" height="397.3" rx="1.7" fill="#43946a"/><rect x="1818.18" y="1140.6" width="3.4" height="272.1" rx="1.7" fill="#43946a"/><rect x="1823.88" y="1191.8" width="3.4" height="220.9" rx="1.7" fill="#43946a"/><rect x="1829.57" y="1269.6" width="3.4" height="143.1" rx="1.7" fill="#43946a"/><rect x="1837.16" y="1042.1" width="3.4" height="370.6" rx="1.7" fill="#43946a"/><rect x="1842.86" y="1102.7" width="3.4" height="310.0" rx="1.7" fill="#43946a"/><rect x="1848.55" y="962.3" width="3.4" height="450.4" rx="1.7" fill="#43946a"/><rect x="1854.24" y="992.6" width="3.4" height="420.1" rx="1.7" fill="#43946a"/><rect x="1859.94" y="935.8" width="3.4" height="476.9" rx="1.7" fill="#43946a"/><rect x="1867.53" y="1305.7" width="3.4" height="107.0" rx="1.7" fill="#43946a"/><rect x="1873.22" y="1288.5" width="3.4" height="124.2" rx="1.7" fill="#43946a"/><rect x="1878.91" y="1258.2" width="3.4" height="154.5" rx="1.7" fill="#43946a"/><rect x="1884.61" y="1045.9" width="3.4" height="366.8" rx="1.7" fill="#43946a"/><rect x="1890.30" y="1093.1" width="3.4" height="319.6" rx="1.7" fill="#43946a"/><rect x="1895.99" y="1038.3" width="3.4" height="374.4" rx="1.7" fill="#43946a"/><rect x="1903.58" y="1087.5" width="3.4" height="325.2" rx="1.7" fill="#43946a"/><rect x="1909.28" y="1288.5" width="3.4" height="124.2" rx="1.7" fill="#43946a"/><rect x="1914.97" y="1271.4" width="3.4" height="141.3" rx="1.7" fill="#43946a"/><rect x="1920.66" y="1091.3" width="3.4" height="321.4" rx="1.7" fill="#43946a"/><rect x="1926.36" y="981.3" width="3.4" height="431.4" rx="1.7" fill="#43946a"/><rect x="1932.05" y="1123.6" width="3.4" height="289.1" rx="1.7" fill="#43946a"/><rect x="1939.64" y="1017.4" width="3.4" height="395.3" rx="1.7" fill="#43946a"/><rect x="1945.34" y="1123.6" width="3.4" height="289.1" rx="1.7" fill="#43946a"/><rect x="1951.03" y="1313.3" width="3.4" height="99.4" rx="1.7" fill="#43946a"/><rect x="1956.72" y="1222.1" width="3.4" height="190.6" rx="1.7" fill="#43946a"/><rect x="1962.42" y="1125.4" width="3.4" height="287.3" rx="1.7" fill="#43946a"/><rect x="1970.01" y="913.1" width="3.4" height="499.6" rx="1.7" fill="#43946a"/><rect x="1975.70" y="1049.7" width="3.4" height="363.0" rx="1.7" fill="#43946a"/><rect x="1981.39" y="1106.5" width="3.4" height="306.2" rx="1.7" fill="#43946a"/><rect x="1987.09" y="1045.9" width="3.4" height="366.8" rx="1.7" fill="#43946a"/><rect x="1992.78" y="1317.1" width="3.4" height="95.6" rx="1.7" fill="#43946a"/><rect x="1998.47" y="1336.0" width="3.4" height="76.7" rx="1.7" fill="#43946a"/><rect x="2006.07" y="1131.0" width="3.4" height="281.7" rx="1.7" fill="#43946a"/><rect x="2011.76" y="1151.9" width="3.4" height="260.8" rx="1.7" fill="#43946a"/><rect x="2017.45" y="1155.7" width="3.4" height="257.0" rx="1.7" fill="#43946a"/><rect x="2023.15" y="1263.8" width="3.4" height="148.9" rx="1.7" fill="#43946a"/><rect x="2028.84" y="1009.8" width="3.4" height="402.9" rx="1.7" fill="#43946a"/><rect x="2036.43" y="1277.2" width="3.4" height="135.5" rx="1.7" fill="#43946a"/><rect x="2042.12" y="1176.7" width="3.4" height="236.0" rx="1.7" fill="#43946a"/><rect x="2047.82" y="1100.7" width="3.4" height="312.0" rx="1.7" fill="#43946a"/><rect x="2053.51" y="1082.9" width="3.4" height="329.8" rx="1.7" fill="#43946a"/><rect x="2059.20" y="1189.8" width="3.4" height="222.9" rx="1.7" fill="#43946a"/><rect x="2064.90" y="1142.6" width="3.4" height="270.1" rx="1.7" fill="#43946a"/><rect x="2072.49" y="1227.9" width="3.4" height="184.8" rx="1.7" fill="#43946a"/><rect x="2078.18" y="1315.1" width="3.4" height="97.6" rx="1.7" fill="#43946a"/><rect x="2083.88" y="1326.4" width="3.4" height="86.3" rx="1.7" fill="#43946a"/><rect x="2089.57" y="1210.8" width="3.4" height="201.9" rx="1.7" fill="#43946a"/><rect x="2095.26" y="1186.0" width="3.4" height="226.7" rx="1.7" fill="#43946a"/><rect x="2102.85" y="1170.9" width="3.4" height="241.8" rx="1.7" fill="#43946a"/><rect x="2108.55" y="1209.0" width="3.4" height="203.7" rx="1.7" fill="#43946a"/><rect x="2114.24" y="1273.4" width="3.4" height="139.3" rx="1.7" fill="#43946a"/><rect x="2119.93" y="1343.6" width="3.4" height="69.1" rx="1.7" fill="#43946a"/><rect x="2125.63" y="1349.2" width="3.4" height="63.5" rx="1.7" fill="#43946a"/><rect x="2131.32" y="1203.2" width="3.4" height="209.5" rx="1.7" fill="#43946a"/><rect x="2138.91" y="1182.3" width="3.4" height="230.4" rx="1.7" fill="#43946a"/><rect x="2144.61" y="1089.3" width="3.4" height="323.4" rx="1.7" fill="#43946a"/><rect x="2150.30" y="1011.6" width="3.4" height="401.1" rx="1.7" fill="#43946a"/><rect x="2155.99" y="856.0" width="3.4" height="556.7" rx="1.7" fill="#43946a"/><rect x="2161.69" y="1279.2" width="3.4" height="133.5" rx="1.7" fill="#43946a"/><rect x="2169.28" y="1271.4" width="3.4" height="141.3" rx="1.7" fill="#43946a"/><rect x="2174.97" y="1019.2" width="3.4" height="393.5" rx="1.7" fill="#43946a"/><rect x="2180.66" y="990.9" width="3.4" height="421.8" rx="1.7" fill="#43946a"/><rect x="2186.36" y="829.5" width="3.4" height="583.2" rx="1.7" fill="#43946a"/><rect x="2192.05" y="857.8" width="3.4" height="554.9" rx="1.7" fill="#43946a"/><rect x="2197.74" y="769.2" width="3.4" height="643.5" rx="1.7" fill="#43946a"/><rect x="2205.34" y="1222.1" width="3.4" height="190.6" rx="1.7" fill="#43946a"/><rect x="2211.03" y="1151.9" width="3.4" height="260.8" rx="1.7" fill="#43946a"/><rect x="2216.72" y="886.3" width="3.4" height="526.4" rx="1.7" fill="#43946a"/><rect x="2222.42" y="964.1" width="3.4" height="448.6" rx="1.7" fill="#43946a"/><rect x="2228.11" y="924.5" width="3.4" height="488.2" rx="1.7" fill="#43946a"/><rect x="2233.80" y="996.4" width="3.4" height="416.3" rx="1.7" fill="#43946a"/><rect x="2241.39" y="863.6" width="3.4" height="549.1" rx="1.7" fill="#43946a"/><rect x="2247.09" y="1269.6" width="3.4" height="143.1" rx="1.7" fill="#43946a"/><rect x="2252.78" y="1260.0" width="3.4" height="152.7" rx="1.7" fill="#43946a"/><rect x="2258.47" y="994.4" width="3.4" height="418.3" rx="1.7" fill="#43946a"/><rect x="2264.17" y="1146.4" width="3.4" height="266.3" rx="1.7" fill="#43946a"/><rect x="2271.76" y="1114.1" width="3.4" height="298.6" rx="1.7" fill="#43946a"/><rect x="2277.45" y="1114.1" width="3.4" height="298.6" rx="1.7" fill="#43946a"/><rect x="2283.14" y="1011.6" width="3.4" height="401.1" rx="1.7" fill="#43946a"/><rect x="2288.84" y="1263.8" width="3.4" height="148.9" rx="1.7" fill="#43946a"/><rect x="2294.53" y="1299.9" width="3.4" height="112.8" rx="1.7" fill="#43946a"/><rect x="2300.23" y="1129.2" width="3.4" height="283.5" rx="1.7" fill="#43946a"/><rect x="2307.82" y="1070.6" width="3.4" height="342.1" rx="1.7" fill="#43946a"/><rect x="2313.51" y="1155.7" width="3.4" height="257.0" rx="1.7" fill="#43946a"/><rect x="2319.20" y="1061.3" width="3.4" height="351.4" rx="1.7" fill="#43946a"/><rect x="2324.90" y="914.9" width="3.4" height="497.8" rx="1.7" fill="#43946a"/><rect x="2330.59" y="1059.3" width="3.4" height="353.4" rx="1.7" fill="#43946a"/><rect x="2338.18" y="1157.7" width="3.4" height="255.0" rx="1.7" fill="#43946a"/><rect x="2343.87" y="905.5" width="3.4" height="507.2" rx="1.7" fill="#43946a"/><rect x="2349.57" y="731.2" width="3.4" height="681.5" rx="1.7" fill="#43946a"/><rect x="2355.26" y="780.3" width="3.4" height="632.4" rx="1.7" fill="#43946a"/><rect x="2360.95" y="653.7" width="3.4" height="759.0" rx="1.7" fill="#5fb286"/><rect x="2366.65" y="1341.8" width="3.4" height="70.9" rx="1.7" fill="#43946a"/></g>
<line x1="163" y1="722" x2="2378" y2="722" stroke="#8e8e96" stroke-width="2" stroke-dasharray="6.7 3.7"/>
<path d="M163.0 914.3 L166.9 932.2 L172.9 925.5 L179.0 919.2 L185.0 919.5 L191.0 912.3 L197.1 931.0 L203.1 913.7 L209.1 915.9 L215.2 875.6 L221.2 873.8 L227.2 880.2 L233.2 898.7 L239.3 966.7 L245.3 944.9 L251.3 945.1 L257.4 945.8 L263.4 949.3 L269.4 976.7 L275.5 942.2 L281.5 976.7 L287.5 969.4 L293.6 995.7 L299.6 1044.0 L305.6 1027.3 L311.7 1019.1 L317.7 997.9 L323.7 989.4 L329.8 1004.6 L335.8 997.9 L341.8 972.7 L347.8 979.0 L353.9 1013.1 L359.9 1019.7 L365.9 1004.1 L372.0 993.4 L378.0 964.5 L384.0 933.3 L390.1 919.5 L396.1 927.9 L402.1 908.8 L408.2 907.2 L414.2 928.8 L420.2 912.1 L426.3 895.2 L432.3 900.3 L438.3 906.1 L444.3 922.6 L450.4 970.0 L456.4 996.8 L462.4 1001.7 L468.5 980.7 L474.5 980.5 L480.5 972.3 L486.6 977.8 L492.6 972.3 L498.6 995.0 L504.7 989.7 L510.7 972.3 L516.7 960.7 L522.8 963.4 L528.8 914.3 L534.8 920.6 L540.9 919.7 L546.9 921.0 L552.9 910.5 L558.9 908.8 L565.0 880.5 L571.0 903.2 L577.0 916.6 L583.1 946.2 L589.1 943.3 L595.1 974.1 L601.2 960.0 L607.2 951.5 L613.2 933.3 L619.3 911.7 L625.3 906.3 L631.3 948.9 L637.4 950.7 L643.4 956.2 L649.4 967.1 L655.5 986.3 L661.5 977.4 L667.5 886.5 L673.5 839.0 L679.6 820.7 L685.6 778.4 L691.6 764.9 L697.7 720.3 L703.7 749.7 L709.7 763.2 L715.8 793.0 L721.8 787.0 L727.8 777.5 L733.9 789.3 L739.9 759.0 L745.9 783.4 L752.0 790.7 L758.0 723.3 L764.0 730.0 L770.0 714.4 L776.1 721.9 L782.1 711.0 L788.1 731.2 L794.2 657.1 L800.2 673.9 L806.2 670.6 L812.3 646.5 L818.3 645.8 L824.3 660.0 L830.4 665.5 L836.4 618.3 L842.4 629.3 L848.5 586.0 L854.5 587.2 L860.5 585.7 L866.6 645.2 L872.6 663.0 L878.6 620.0 L884.6 610.6 L890.7 605.7 L896.7 612.9 L902.7 595.7 L908.8 590.1 L914.8 608.8 L920.8 663.4 L926.9 710.2 L932.9 698.2 L938.9 728.1 L945.0 741.9 L951.0 709.1 L957.0 693.5 L963.1 692.9 L969.1 728.7 L975.1 730.3 L981.2 714.2 L987.2 725.4 L993.2 724.3 L999.2 729.6 L1005.3 725.2 L1011.3 702.4 L1017.3 667.9 L1023.4 657.2 L1029.4 661.7 L1035.4 651.2 L1041.5 718.7 L1047.5 731.4 L1053.5 754.4 L1059.6 745.4 L1065.6 741.4 L1071.6 745.2 L1077.7 776.6 L1083.7 754.4 L1089.7 702.4 L1095.8 735.2 L1101.8 697.3 L1107.8 735.2 L1113.8 754.8 L1119.9 741.9 L1125.9 731.0 L1131.9 750.8 L1138.0 728.1 L1144.0 734.7 L1150.0 733.0 L1156.1 752.6 L1162.1 765.5 L1168.1 791.6 L1174.2 782.7 L1180.2 755.0 L1186.2 737.6 L1192.3 778.2 L1198.3 845.9 L1204.3 842.6 L1210.3 883.8 L1216.4 869.1 L1222.4 896.5 L1228.4 915.4 L1234.5 912.8 L1240.5 914.3 L1246.5 904.7 L1252.6 921.0 L1258.6 882.7 L1264.6 899.8 L1270.7 886.5 L1276.7 897.6 L1282.7 902.5 L1288.8 881.6 L1294.8 902.1 L1300.8 888.7 L1306.9 882.7 L1312.9 904.7 L1318.9 873.1 L1324.9 859.7 L1331.0 948.4 L1337.0 955.6 L1343.0 1006.4 L1349.1 1015.3 L1355.1 1039.1 L1361.1 1046.5 L1367.2 947.8 L1373.2 1071.0 L1379.2 1063.6 L1385.3 1038.7 L1391.3 1052.5 L1397.3 1073.2 L1403.4 1051.4 L1409.4 1126.2 L1415.4 1180.8 L1421.5 1158.1 L1427.5 1163.0 L1433.5 1180.8 L1439.5 1160.8 L1445.6 1152.3 L1451.6 1171.9 L1457.6 1155.9 L1463.7 1154.1 L1469.7 1105.5 L1475.7 1132.2 L1481.8 1140.7 L1487.8 1135.1 L1493.8 1124.7 L1499.9 1096.1 L1505.9 1101.3 L1511.9 1122.9 L1518.0 1125.8 L1524.0 1171.9 L1530.0 1197.1 L1536.1 1206.0 L1542.1 1200.2 L1548.1 1165.7 L1554.1 1210.9 L1560.2 1203.1 L1566.2 1202.4 L1572.2 1206.4 L1578.3 1312.1 L1584.3 1323.4 L1590.3 1365.3 L1596.4 1268.4 L1602.4 1339.7 L1608.4 1319.0 L1614.5 1280.4 L1620.5 1302.3 L1626.5 1290.0 L1632.6 1306.7 L1638.6 1312.1 L1644.6 1309.0 L1650.6 1306.7 L1656.7 1295.6 L1662.7 1307.8 L1668.7 1311.0 L1674.8 1227.6 L1680.8 1212.0 L1686.8 1222.0 L1692.9 1216.0 L1698.9 1200.2 L1704.9 1212.7 L1711.0 1209.3 L1717.0 1209.8 L1723.0 1212.0 L1729.1 1193.1 L1735.1 1190.8 L1741.1 1194.2 L1747.2 1203.8 L1753.2 1199.8 L1759.2 1202.0 L1765.2 1204.4 L1771.3 1058.1 L1777.3 1011.3 L1783.3 928.4 L1789.4 948.9 L1795.4 954.4 L1801.4 899.8 L1807.5 919.9 L1813.5 937.7 L1819.5 941.7 L1825.6 960.5 L1831.6 952.2 L1837.6 945.1 L1843.7 946.0 L1849.7 937.7 L1855.7 904.3 L1861.8 945.5 L1867.8 944.4 L1873.8 937.7 L1879.8 933.3 L1885.9 904.7 L1891.9 899.2 L1897.9 914.3 L1904.0 943.7 L1910.0 944.6 L1916.0 941.1 L1922.1 920.3 L1928.1 924.8 L1934.1 920.6 L1940.2 980.1 L1946.2 960.0 L1952.2 945.1 L1958.3 950.0 L1964.3 899.8 L1970.3 861.5 L1976.4 872.7 L1982.4 909.9 L1988.4 928.8 L1994.4 943.7 L2000.5 938.8 L2006.5 939.5 L2012.5 949.3 L2018.6 945.3 L2024.6 946.2 L2030.6 984.5 L2036.7 1020.2 L2042.7 1043.6 L2048.7 981.2 L2054.8 969.6 L2060.8 978.5 L2066.8 979.6 L2072.9 977.2 L2078.9 973.4 L2084.9 952.9 L2090.9 957.8 L2097.0 983.4 L2103.0 932.2 L2109.0 925.7 L2115.1 950.7 L2121.1 948.4 L2127.1 931.7 L2133.2 940.0 L2139.2 918.8 L2145.2 875.3 L2151.3 824.1 L2157.3 821.9 L2163.3 826.3 L2169.4 819.2 L2175.4 807.4 L2181.4 780.6 L2187.5 765.0 L2193.5 745.0 L2199.5 705.0 L2205.5 668.0 L2211.6 635.1 L2217.6 634.5 L2223.6 637.8 L2229.7 661.2 L2235.7 646.3 L2241.7 642.7 L2247.8 638.9 L2253.8 612.9 L2259.8 627.1 L2265.9 628.5 L2271.9 625.6 L2277.9 646.7 L2284.0 672.0 L2290.0 690.0 L2296.0 670.0 L2302.1 644.1 L2308.1 662.3 L2314.1 652.3 L2320.1 604.4 L2326.2 585.0 L2332.2 538.2 L2338.2 539.8 L2344.3 544.9 L2350.3 487.8 L2356.3 453.5 L2362.4 487.4 L2368.4 471.8" fill="none" stroke="#151518" stroke-width="1.9" stroke-linejoin="round" stroke-linecap="round" clip-path="url(#cl)"/>
<rect x="146" y="408" width="4" height="1004" fill="#43946a"/>
<rect x="2391" y="408" width="4" height="1003" fill="#111114"/>
<circle cx="2362.5" cy="487" r="18.5" fill="#bdbdc0" fill-opacity="0.85"/>
<circle cx="2362.5" cy="487" r="12" fill="#111114" stroke="#fff" stroke-width="2"/>
<text x="120.5" y="542.3" text-anchor="end" class="yl">3M</text>
<text x="120.5" y="688.3" text-anchor="end" class="yl">2.5M</text>
<text x="120.5" y="834.3" text-anchor="end" class="yl">2M</text>
<text x="120.5" y="981.3" text-anchor="end" class="yl">1.5M</text>
<text x="120.5" y="1128.3" text-anchor="end" class="yl">1M</text>
<text x="120.5" y="1274.3" text-anchor="end" class="yl">500K</text>
<text x="120.5" y="1421.3" text-anchor="end" class="yl">0</text>
<text x="2422" y="423.0" class="yl">$5K</text>
<text x="2422" y="506.0" class="yl">$4.5K</text>
<text x="2422" y="598.6" class="yl">$4K</text>
<text x="2422" y="699.7" class="yl">$3.5K</text>
<text x="2422" y="822.0" class="yl">$3K</text>
<text x="2422" y="963.3" class="yl">$2.5K</text>
<text x="2422" y="1136.8" class="yl">$2K</text>
<text x="2422" y="1360.5" class="yl">$1.5K</text>
<rect x="78" y="698" width="70" height="45" fill="#f0f0f2"/>
<text x="114.5" y="729.5" text-anchor="middle" class="yl">2.3M</text>
<rect x="49" y="1319.5" width="97.5" height="46.5" fill="#43946a"/>
<text x="98.5" y="1351" text-anchor="middle" class="yl" fill="#fff" style="fill:#fff">237.7K</text>
<rect x="2395" y="449" width="83" height="46.5" fill="#111114"/>
<text x="2436" y="481" text-anchor="middle" class="yl" style="fill:#fff">$4.6K</text>
<rect x="2393" y="698" width="80" height="45.5" fill="#f0f0f2"/>
<text x="2433.5" y="730" text-anchor="middle" class="yl">$3.3K</text>
<rect x="2215" y="1412" width="163" height="56" fill="#f0f0f2"/>
<text x="2296" y="1448.5" text-anchor="middle" class="yl">2025 Aug 14</text>
<rect x="2154" y="1494" width="224" height="20" fill="#ececf1"/>
<rect x="163" y="1495" width="2215" height="2" fill="#dcdce4"/>
<rect x="248.6" y="1495" width="2" height="20" fill="#dcdce4"/>
<rect x="690.8" y="1495" width="2" height="20" fill="#dcdce4"/>
<rect x="1133.0" y="1495" width="2" height="20" fill="#dcdce4"/>
<rect x="1575.0" y="1495" width="2" height="20" fill="#dcdce4"/>
<rect x="2017.0" y="1495" width="2" height="20" fill="#dcdce4"/>
</svg>
<div class="shadow"></div>
<div class="tip">
<div style="left:0;width:580px;text-align:center;top:16.5px;letter-spacing:1.15px"><b>2025 Aug 14, UTC</b></div>
<span class="dot" style="left:15px;top:51px;background:#111114"></span>
<div style="left:40px;top:46.5px;letter-spacing:.2px"><b>Price USD</b></div>
<div style="left:318px;top:46.5px;letter-spacing:1px">4,550.24465447</div>
<span class="dot" style="left:15px;top:82px;background:#43946a"></span>
<div style="left:40px;top:77.5px;letter-spacing:.35px"><b>Exchange Inflow (Total)</b></div>
<div style="left:318px;top:77.5px;letter-spacing:1px">2,594,168.944461274</div>
</div>
<div class="chat"><svg width="91" height="91" viewBox="0 0 91 91"><path d="M29.3 22.3 H61 Q65.2 22.3 65.2 26.5 V68.1 L52.7 63.2 H29.3 Q25.1 63.2 25.1 59 V26.5 Q25.1 22.3 29.3 22.3 Z" fill="#fff"/><path d="M31.8 50.9 Q45.2 61.3 58.7 51.2" fill="none" stroke="#32209d" stroke-width="2.3" stroke-linecap="round"/></svg></div>

</body>
</html>
